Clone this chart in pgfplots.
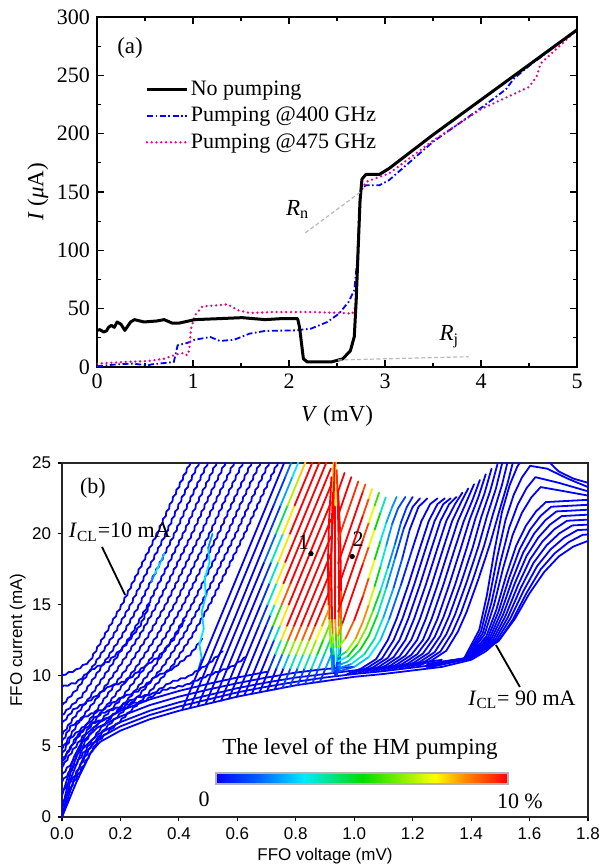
\documentclass[border=0pt]{standalone}
\usepackage{fontspec}
\setmainfont{Liberation Serif}
\newfontfamily\arialfont{Liberation Sans}
\usepackage{pgfplots}
\pgfplotsset{compat=1.18}
\usetikzlibrary{calc,decorations.pathmorphing}

\pgfplotsset{
  colormap={hm}{rgb255(0cm)=(0,0,255) rgb255(3cm)=(0,100,255) rgb255(6cm)=(0,235,255)
    rgb255(10cm)=(0,220,0) rgb255(15cm)=(255,255,0) rgb255(17cm)=(255,140,0) rgb255(20cm)=(255,0,0)},
  fam/.style={blue, line width=0.9bp, line join=round, line cap=round},
  famw/.style={fam, decorate, decoration={zigzag, segment length=4bp, amplitude=0.35bp}},
  lobe/.style={mesh, point meta=explicit, line width=0.9bp, line join=round, line cap=round},
  lobew/.style={lobe},
}

\begin{document}
\begin{tikzpicture}
\useasboundingbox (0,0) rectangle (305bp,433.5bp);

% ---------------- panel (a)
\begin{axis}[
  at={(48.5bp,250bp)}, anchor=south west,
  scale only axis, width=240bp, height=175bp,
  xmin=0, xmax=5, ymin=0, ymax=300,
  xtick={0,1,2,3,4,5}, ytick={0,50,100,150,200,250,300},
  minor x tick num=1, minor y tick num=1,
  tick align=inside, major tick length=3.5bp, minor tick length=2bp,
  axis line style={line width=0.75bp},
  every tick/.style={black, line width=0.6bp},
  /pgf/number format/assume math mode=true,
  tick label style={font=\fontsize{11bp}{13bp}\selectfont},
  label style={font=\fontsize{11.5bp}{13bp}\selectfont},
  xlabel={\textit{V} (mV)}, ylabel={\textit{I} (\textit{μ}A)},
  xlabel style={at={(axis description cs:0.5,-0.14)}, anchor=center},
  ylabel style={at={(axis description cs:-0.123,0.5)}, anchor=center},
  legend style={at={(0.10,0.826)}, anchor=north west, draw=none, fill=none,
    font=\fontsize{11bp}{13bp}\selectfont, row sep=2bp, inner sep=0pt,
    nodes={inner sep=1.2bp}},
  legend cell align=left,
  legend image code/.code={\draw[#1] (0bp,0bp) -- (20bp,0bp);},
]
\addlegendimage{black, line width=1.5bp}
\addlegendentry{No pumping}
\addlegendimage{blue, line width=0.9bp, dash pattern=on 3bp off 1.3bp on 0.8bp off 1.3bp}
\addlegendentry{Pumping @400 GHz}
\addlegendimage{magenta, line width=1.3bp, line cap=round, dash pattern=on 0bp off 2.4bp}
\addlegendentry{Pumping @475 GHz}

\addplot[forget plot, blue, line width=0.9bp, dash pattern=on 3bp off 1.3bp on 0.8bp off 1.3bp] coordinates {
(0,0.6)(0.21,2.3)(0.37,2.9)(0.53,1.4)(0.57,2.3)(0.70,3.4)(0.80,4.3)(0.82,11.4)(0.84,18.6)
(0.94,20.6)(1.02,23.4)(1.18,25.7)(1.28,22.3)(1.43,23.4)(1.59,28.6)(1.75,30.9)(2.07,31.4)
(2.23,32.9)(2.40,38.6)(2.52,45.7)(2.62,55.7)(2.68,65.7)(2.71,91)(2.73,128.6)(2.75,152.9)
(2.80,155.7)(2.94,155.7)(3.04,160)(3.5,193)(4.0,222)(4.26,238)(4.34,247)(4.5,258)(5,289)};

\addplot[forget plot, magenta, line width=1.3bp, line cap=round, dash pattern=on 0bp off 2.4bp] coordinates {
(0,2.9)(0.29,4.3)(0.53,5.1)(0.70,7.1)(0.80,10)(0.84,10.9)(0.90,12)(0.94,10)(0.96,14.3)
(0.98,32.9)(1.02,44.3)(1.10,52)(1.26,52.9)(1.36,53.7)(1.47,48.6)(1.59,46.3)(1.83,47.1)
(2.23,47.1)(2.56,46.3)(2.66,45.7)(2.69,51.4)(2.71,85.7)(2.73,120)(2.75,150)(2.80,158.6)
(2.94,162.9)(3.04,165.7)(3.5,194)(4.0,221)(4.5,240)(4.58,249)(4.62,260)(5,289)};

\addplot[forget plot, black, line width=1.5bp, line join=round] coordinates {
(0,31.4)(0.03,32)(0.07,30)(0.1,31)(0.12,34)(0.15,35.7)(0.18,34)(0.21,38.6)(0.25,36.6)
(0.29,31.4)(0.35,38.6)(0.39,40.6)(0.49,38.6)(0.62,39.4)(0.70,40.6)(0.78,37.7)(0.86,37.7)
(1.02,40.6)(1.26,41.4)(1.51,42.3)(1.75,40.6)(1.91,41.4)(2.09,41.4)(2.11,34)(2.15,7)
(2.19,4.3)(2.44,4.3)(2.56,7)(2.64,14)(2.68,26)(2.70,57)(2.72,100)(2.74,143)(2.76,161)
(2.80,165)(2.94,165)(3.04,170)(3.5,199)(4.0,229)(4.5,259)(5.0,289)};

\addplot[forget plot, gray!55, line width=0.6bp, dash pattern=on 2bp off 1.2bp] coordinates {(2.17,115)(2.754,150.5)};
\addplot[forget plot, gray!55, line width=0.6bp, dash pattern=on 2bp off 1.2bp] coordinates {(2.51,6)(3.87,8.8)};

\node[font=\fontsize{11.5bp}{13bp}\selectfont] at (axis cs:0.344,273.4) {(a)};
\node[font=\fontsize{11.5bp}{13bp}\selectfont] at (axis cs:2.09,135) {\textit{R}\textsubscript{n}};
\node[font=\fontsize{11.5bp}{13bp}\selectfont] at (axis cs:3.67,26) {\textit{R}\textsubscript{j}};
\end{axis}

% ---------------- panel (b)
\begin{axis}[
  at={(31bp,25bp)}, anchor=south west,
  scale only axis, width=263bp, height=177bp,
  xmin=0, xmax=1.8, ymin=0, ymax=25,
  xtick={0,0.2,0.4,0.6,0.8,1.0,1.2,1.4,1.6,1.8}, ytick={0,5,10,15,20,25},
  xtick pos=left, ytick pos=left,
  tick align=outside, major tick length=2bp,
  axis line style={line width=1bp, black!85},
  every tick/.style={black, line width=0.6bp},
  /pgf/number format/assume math mode=true,
  tick label style={font=\arialfont\fontsize{8.5bp}{10bp}\selectfont},
  xticklabel style={/pgf/number format/.cd, fixed, fixed zerofill, precision=1},
  label style={font=\arialfont\fontsize{8.5bp}{10bp}\selectfont},
  xlabel={FFO voltage (mV)}, ylabel={FFO current (mA)},
  xlabel style={at={(axis description cs:0.5,-0.110)}, anchor=center},
  ylabel style={at={(axis description cs:-0.084,0.5)}, anchor=center},
  colormap name=hm, point meta min=0, point meta max=10,
  colorbar horizontal,
  colorbar style={at={($(parent axis.south west)+(77bp,25bp)$)}, anchor=south west,
    scale only axis, width=146bp, height=5.5bp,
    xtick=\empty, ytick=\empty, xlabel={}, ylabel={},
    axis line style={gray!60, line width=0.6bp}},
]
% envelope band
\addplot[fam] coordinates {(0,0)(0.05,2.5)(0.1,4.6)(0.13,5.3)(0.2,6.1)(0.3,6.9)(0.4,7.5)(0.5,8.0)(0.6,8.5)(0.7,8.9)(0.8,9.3)(0.9,9.6)(1.0,9.9)(1.1,10.1)(1.2,10.35)(1.3,10.6)(1.4,11.1)(1.45,11.7)(1.5,12.6)(1.55,14)(1.6,15.8)(1.65,17.3)(1.7,18.4)(1.75,19.1)(1.8,19.5)};
\addplot[fam] coordinates {(0,0)(0.04,2.6)(0.08,4.5)(0.12,5.5)(0.2,6.4)(0.3,7.2)(0.4,7.8)(0.5,8.3)(0.6,8.8)(0.7,9.2)(0.8,9.55)(0.9,9.85)(1.0,10.1)(1.1,10.3)(1.2,10.55)(1.3,10.8)(1.4,11.3)};
\addplot[fam] coordinates {(0,0)(0.03,2.7)(0.07,4.8)(0.12,5.8)(0.2,6.7)(0.3,7.5)(0.4,8.1)(0.5,8.6)(0.6,9.1)(0.7,9.5)(0.8,9.85)(0.9,10.1)(1.0,10.35)(1.1,10.55)(1.2,10.8)(1.3,11.1)};
\addplot[fam] coordinates {(0,0.5)(0.03,3.2)(0.07,5.3)(0.12,6.3)(0.2,7.1)(0.3,7.9)(0.4,8.5)(0.5,9.0)(0.6,9.45)(0.7,9.85)(0.8,10.2)(0.9,10.45)(1.0,10.6)};
\addplot[fam] coordinates {(0,1.5)(0.04,4.2)(0.08,5.8)(0.13,6.7)(0.2,7.5)(0.3,8.3)(0.4,8.9)(0.5,9.4)(0.6,9.85)(0.7,10.25)};

% tangle in the lower left
\addplot[famw] coordinates {(0,9.2)(0.05,9.5)(0.1,10.4)(0.16,11.0)(0.22,12.2)(0.27,13.6)(0.3,15.0)};
\addplot[famw] coordinates {(0,6.6)(0.04,7.6)(0.1,8.3)(0.16,9.2)(0.22,9.6)(0.28,10.6)(0.33,11.3)(0.38,12.5)(0.42,13.9)};
\addplot[famw] coordinates {(0,5.3)(0.03,6.4)(0.08,7.1)(0.14,7.6)(0.2,8.4)(0.26,8.9)(0.32,9.9)(0.38,10.5)(0.44,11.5)(0.48,12.6)};
\addplot[famw] coordinates {(0,4.4)(0.03,5.6)(0.07,6.3)(0.13,7.3)(0.19,7.7)(0.25,8.4)(0.31,8.7)(0.37,9.5)(0.43,9.9)(0.5,10.8)(0.55,11.7)};
\addplot[famw] coordinates {(0,3.8)(0.05,5.7)(0.1,6.6)(0.16,7.0)(0.22,7.9)(0.28,8.2)(0.35,9.0)(0.42,9.3)(0.5,10.0)(0.58,10.6)(0.63,11.3)};

% left family
\addplot[famw] coordinates {(0.45,25.5)(0.38,22.5)(0.325,20)(0.265,17.5)(0.205,15)(0.145,12.8)(0.095,11.0)(0.05,10.4)(0,10.0)};
\addplot[famw] coordinates {(0.48,25.5)(0.41,22.5)(0.355,20)(0.295,17.5)(0.235,15)(0.175,12.8)(0.105,10.6)(0.05,9.0)(0,7.9)};
\addplot[famw] coordinates {(0.51,25.5)(0.44,22.5)(0.385,20)(0.325,17.5)(0.265,15)(0.205,12.8)(0.135,10.6)(0.07,8.6)(0,7.2)};
\addplot[famw] coordinates {(0.54,25.5)(0.47,22.5)(0.415,20)(0.355,17.5)(0.295,15)(0.235,12.8)(0.165,10.6)(0.09,8.3)(0.04,7.0)(0,5.8)};
\addplot[famw] coordinates {(0.57,25.5)(0.5,22.5)(0.445,20)(0.385,17.5)(0.325,15)(0.265,12.8)(0.195,10.6)(0.12,8.4)(0.06,6.8)(0,4.8)};
\addplot[famw] coordinates {(0.6,25.5)(0.53,22.5)(0.475,20)(0.415,17.5)(0.355,15)(0.295,12.8)(0.225,10.6)(0.14,8.2)(0.08,6.4)(0,4.0)};
\addplot[famw] coordinates {(0.63,25.5)(0.56,22.5)(0.505,20)(0.445,17.5)(0.385,15)(0.325,12.8)(0.255,10.6)(0.17,8.3)(0.09,6.2)(0.03,4.5)(0,3.5)};
\addplot[famw] coordinates {(0.66,25.5)(0.59,22.5)(0.535,20)(0.475,17.5)(0.415,15)(0.355,12.8)(0.285,10.6)(0.2,8.3)(0.11,6.3)(0.04,4.0)(0,3.0)};
\addplot[famw] coordinates {(0.69,25.5)(0.62,22.5)(0.565,20)(0.505,17.5)(0.445,15)(0.385,12.8)(0.315,10.6)(0.23,8.4)(0.13,6.2)(0.05,3.8)(0,2.5)};
\addplot[famw] coordinates {(0.72,25.5)(0.65,22.5)(0.595,20)(0.535,17.5)(0.475,15)(0.415,12.8)(0.345,10.6)(0.26,8.5)(0.15,6.3)(0.1,5.0)(0.04,2.8)(0,1.8)};
\addplot[famw] coordinates {(0.75,25.5)(0.68,22.5)(0.625,20)(0.565,17.5)(0.505,15)(0.445,12.8)(0.375,10.6)(0.29,8.6)(0.2,6.8)(0.12,5.3)(0.05,2.8)(0,1.0)};

% light-blue strands
\addplot[lobe] coordinates {(0.465,10.3)[1](0.478,11.2)[2.5](0.47,12.2)[3](0.485,13.3)[3](0.478,14.5)[2.5](0.492,15.6)[3](0.488,16.8)[3](0.505,18)[3](0.5,19)[2.5](0.515,20)[1.5]};
\addplot[lobe] coordinates {(0.305,16.6)[1](0.318,17.2)[3](0.335,17.9)[3](0.35,18.6)[2]};

% lobe family (left of the vertical band)
\addplot[lobew] coordinates {(0.412,7.6)[0](0.59,16.5)[0](0.77,25.5)[0]};
\addplot[lobew] coordinates {(0.438,7.7)[0](0.58,14.8)[0](0.724,22)[0](0.764,24)[1.5](0.794,25.5)[1.5]};
\addplot[lobew] coordinates {(0.465,7.85)[0](0.59,14)[0](0.708,20)[0](0.748,22)[1.5](0.788,24)[3](0.818,25.5)[3]};
\addplot[lobew] coordinates {(0.492,8)[0](0.692,18)[0](0.732,20)[3](0.772,22)[5.5](0.812,24)[8](0.842,25.5)[8]};
\addplot[lobew] coordinates {(0.518,8.1)[0](0.686,16.5)[0](0.716,18)[1.5](0.756,20)[5.5](0.796,22)[10](0.866,25.5)[10]};
\addplot[lobew] coordinates {(0.544,8.2)[0](0.68,15)[0](0.71,16.5)[1.5](0.74,18)[5.5](0.78,20)[10](0.89,25.5)[10]};
\addplot[lobew] coordinates {(0.571,8.35)[0](0.674,13.5)[0](0.704,15)[1.5](0.734,16.5)[5.5](0.764,18)[10](0.914,25.5)[10]};
\addplot[lobew] coordinates {(0.597,8.45)[0](0.698,13.5)[0](0.713,14.25)[1.5](0.728,15)[5](0.758,16.5)[10](0.92,24.6)[10]};
\addplot[lobew] coordinates {(0.624,8.6)[0](0.702,12.5)[0](0.722,13.5)[3](0.752,15)[8](0.782,16.5)[10](0.92,23.4)[10]};
\addplot[lobew] coordinates {(0.65,8.7)[0](0.706,11.5)[0](0.726,12.5)[1.5](0.746,13.5)[5.5](0.776,15)[10](0.92,22.2)[10]};
\addplot[lobew] coordinates {(0.676,8.8)[0](0.71,10.5)[0](0.73,11.5)[1.5](0.75,12.5)[5.5](0.77,13.5)[10](0.92,21)[10]};
\addplot[lobew] coordinates {(0.702,8.9)[0](0.734,10.5)[0](0.754,11.5)[3](0.774,12.5)[8](0.794,13.5)[10](0.92,19.8)[10]};
\addplot[lobew] coordinates {(0.728,9.0)[0](0.758,10.5)[0](0.778,11.5)[5](0.798,12.5)[8](0.818,13.5)[10](0.92,18.6)[10]};
\addplot[lobew] coordinates {(0.754,9.1)[0](0.782,10.5)[2](0.802,11.5)[5](0.822,12.5)[8](0.842,13.5)[10](0.92,17.4)[10]};
\addplot[lobew] coordinates {(0.78,9.2)[0](0.806,10.5)[2](0.826,11.5)[5](0.846,12.5)[8](0.866,13.5)[10](0.92,16.2)[10]};
\addplot[lobew] coordinates {(0.806,9.3)[0](0.83,10.5)[2](0.85,11.5)[5](0.87,12.5)[8](0.89,13.5)[7](0.92,15)[10]};
\addplot[lobew] coordinates {(0.832,9.4)[0](0.854,10.5)[2](0.874,11.5)[5](0.894,12.5)[5](0.92,13.8)[7]};
\addplot[lobew] coordinates {(0.858,9.5)[0](0.878,10.5)[2](0.898,11.5)[3](0.92,12.6)[5]};
\addplot[lobew] coordinates {(0.883,9.55)[0](0.902,10.5)[1.5](0.92,11.4)[3]};

% vertical band
\addplot[lobe] coordinates {(0.935,10.0)[0](0.932,10.8)[1](0.93,11.5)[3](0.928,12.3)[5](0.926,13)[8](0.924,14)[10](0.922,17)[10](0.923,20)[10](0.926,23)[10](0.93,25.5)[6]};
\addplot[lobe] coordinates {(0.94,10.0)[0](0.94,11)[2](0.939,12)[4](0.937,13)[7](0.935,14)[10](0.935,18)[10](0.935,22)[10](0.937,25.5)[5]};
\addplot[lobe] coordinates {(0.945,10.2)[0](0.946,11.5)[2](0.946,12.5)[5](0.947,13.5)[8](0.948,15)[10](0.947,19)[10](0.944,22)[10](0.94,24.5)[9]};
\addplot[lobe] coordinates {(0.93,10.3)[0](0.925,11.5)[3](0.918,13)[6](0.912,15)[10](0.91,18)[10](0.914,21)[10](0.922,24)[10]};
\addplot[lobe] coordinates {(0.95,10.3)[0](0.953,12)[3](0.955,14)[8](0.955,16)[10](0.952,20)[10](0.945,23)[10]};
\addplot[lobe] coordinates {(0.925,10.2)[0](0.92,12)[4](0.915,14)[9](0.917,17)[10](0.928,21.5)[10](0.934,25.5)[10]};

% right of the band
\addplot[lobew] coordinates {(0.945,23)[10](0.967,24.3)[10]};
\addplot[lobew] coordinates {(0.945,21.3)[10](0.99,24.0)[10]};
\addplot[lobew] coordinates {(0.945,19.6)[10](1.014,23.7)[9]};
\addplot[lobew] coordinates {(0.945,17.9)[10](1.03,23.0)[10](1.038,23.48)[8.5]};
\addplot[lobew] coordinates {(0.945,16.2)[10](1.03,21.3)[10](1.05,22.5)[8.5](1.061,23.16)[7]};
\addplot[lobew] coordinates {(0.945,14.5)[10](1.03,19.6)[10](1.05,20.8)[8.5](1.07,22.0)[6](1.085,22.9)[5]};
\addplot[lobew] coordinates {(0.945,12.8)[7](0.96,13.7)[10](1.03,17.9)[10](1.05,19.1)[8.5](1.07,20.3)[6](1.09,21.5)[4](1.108,22.58)[3]};
\addplot[lobew] coordinates {(0.945,12.0)[5](0.97,12.6)[8](1.0,13.9)[10](1.03,15.6)[10](1.05,16.9)[8.5](1.07,18.2)[6](1.09,19.5)[4](1.11,20.8)[2.5](1.13,21.9)[2](1.145,22.6)[2]};
\addplot[lobew] coordinates {(0.945,11.3)[3](0.975,11.7)[5](1.005,12.6)[8](1.03,13.8)[9](1.05,15.0)[8](1.07,16.3)[6](1.09,17.7)[4](1.11,19.2)[2.5](1.13,20.7)[1.5](1.15,21.8)[1](1.175,22.6)[1]};
\addplot[lobe] coordinates {(0.945,11.0)[2](0.978,11.35)[4](1.012,12.2)[6](1.04,13.3)[6.5](1.065,14.6)[5.5](1.09,16.0)[4](1.115,17.6)[2.5](1.14,19.3)[1.5](1.16,20.8)[1](1.18,21.9)[0.5](1.2,22.6)[0.5]};
\addplot[lobe] coordinates {(0.945,10.7)[1.5](0.98,11.0)[3](1.02,11.8)[5](1.05,12.8)[5](1.08,14.3)[4.5](1.11,16.2)[2.5](1.14,18.3)[1.5](1.17,20.4)[0.5](1.2,21.9)[0](1.225,22.5)[0]};
\addplot[lobe] coordinates {(0.948,10.5)[1](0.99,10.8)[2.5](1.035,11.5)[4](1.07,12.6)[4](1.1,14.1)[3](1.135,16.2)[1.5](1.165,18.3)[1](1.19,20.3)[0](1.22,21.9)[0](1.25,22.5)[0]};
\addplot[lobe] coordinates {(0.95,10.3)[0.5](1.0,10.6)[2](1.05,11.3)[3](1.09,12.5)[3](1.12,14.0)[2](1.16,16.4)[1](1.2,19.0)[0](1.23,20.9)[0](1.26,22.1)[0](1.285,22.5)[0]};

% blue right family
\addplot[fam] coordinates {(0.975,10.08)(1.025,10.5)(1.075,11.15)(1.115,12.5)(1.145,14)(1.185,16.4)(1.225,19)(1.255,20.9)(1.285,22.1)(1.31,22.5)};
\addplot[fam] coordinates {(0.995,10.14)(1.045,10.54)(1.095,11.19)(1.135,12.5)(1.165,14)(1.205,16.4)(1.245,19)(1.275,20.9)(1.305,22.1)(1.33,22.5)};
\addplot[fam] coordinates {(1.015,10.18)(1.065,10.58)(1.115,11.24)(1.155,12.5)(1.185,14)(1.225,16.4)(1.265,19)(1.295,20.9)(1.325,22.1)(1.35,22.6)};
\addplot[fam] coordinates {(1.035,10.22)(1.085,10.62)(1.135,11.29)(1.175,12.5)(1.205,14)(1.245,16.4)(1.285,19)(1.315,20.9)(1.345,22.1)(1.37,22.9)};
\addplot[fam] coordinates {(1.055,10.26)(1.105,10.66)(1.155,11.34)(1.195,12.5)(1.225,14)(1.265,16.4)(1.305,19)(1.335,20.9)(1.365,22.2)(1.39,23.2)};
\addplot[fam] coordinates {(1.075,10.3)(1.125,10.71)(1.175,11.39)(1.215,12.5)(1.245,14)(1.285,16.4)(1.325,19)(1.355,20.9)(1.385,22.3)(1.41,23.5)};
\addplot[fam] coordinates {(1.095,10.34)(1.145,10.76)(1.195,11.44)(1.235,12.5)(1.265,14)(1.305,16.4)(1.345,19)(1.375,20.9)(1.405,22.4)(1.43,23.8)};
\addplot[fam] coordinates {(1.115,10.39)(1.165,10.81)(1.215,11.49)(1.255,12.6)(1.285,14)(1.325,16.4)(1.365,19)(1.395,21)(1.425,22.6)(1.45,24.2)};
\addplot[fam] coordinates {(1.135,10.44)(1.185,10.86)(1.235,11.54)(1.275,12.7)(1.305,14.1)(1.345,16.4)(1.385,19)(1.415,21.1)(1.445,22.8)(1.47,24.6)};
\addplot[fam] coordinates {(1.155,10.49)(1.205,10.91)(1.255,11.59)(1.295,12.8)(1.325,14.2)(1.365,16.5)(1.405,19)(1.435,21.2)(1.465,23.0)(1.49,24.9)};
\addplot[fam] coordinates {(1.175,10.54)(1.225,10.96)(1.275,11.64)(1.315,12.9)(1.345,14.3)(1.385,16.6)(1.425,19.1)(1.455,21.3)(1.485,23.2)(1.51,25.3)};
\addplot[fam] coordinates {(1.195,10.59)(1.245,11.01)(1.295,11.69)(1.335,13.0)(1.365,14.4)(1.405,16.7)(1.445,19.2)(1.475,21.4)(1.505,23.4)(1.53,25.5)};
\addplot[fam] coordinates {(1.215,10.64)(1.265,11.06)(1.315,11.74)(1.355,13.1)(1.385,14.5)(1.425,16.8)(1.465,19.3)(1.495,21.5)(1.525,23.6)(1.55,25.6)};

% far right family
\addplot[fam] coordinates {(1.25,10.55)(1.398,11.2)(1.494,12.42)(1.542,13.91)(1.59,15.83)(1.638,17.49)(1.686,18.62)(1.734,19.41)(1.782,19.93)(1.8,19.95)};
\addplot[fam] coordinates {(1.25,10.57)(1.396,11.2)(1.488,12.47)(1.534,14.01)(1.58,16.0)(1.626,17.72)(1.672,18.9)(1.718,19.72)(1.764,20.26)(1.8,20.3)};
\addplot[fam] coordinates {(1.25,10.6)(1.394,11.2)(1.482,12.51)(1.526,14.11)(1.57,16.18)(1.614,17.96)(1.658,19.18)(1.702,20.03)(1.746,20.59)(1.8,20.65)};
\addplot[fam] coordinates {(1.25,10.62)(1.392,11.2)(1.476,12.56)(1.518,14.21)(1.56,16.35)(1.602,18.2)(1.644,19.46)(1.686,20.34)(1.728,20.92)(1.8,21.0)};
\addplot[fam] coordinates {(1.25,10.65)(1.39,11.2)(1.47,12.61)(1.51,14.32)(1.55,16.53)(1.59,18.44)(1.63,19.74)(1.67,20.65)(1.71,21.25)(1.8,21.35)};
\addplot[fam] coordinates {(1.25,10.67)(1.388,11.2)(1.464,12.65)(1.502,14.42)(1.54,16.7)(1.578,18.67)(1.616,20.02)(1.654,20.96)(1.692,21.58)(1.8,21.7)};
\addplot[fam] coordinates {(1.25,10.7)(1.386,11.2)(1.458,12.7)(1.494,14.52)(1.53,16.88)(1.566,18.91)(1.602,20.3)(1.638,21.27)(1.674,21.91)(1.8,22.05)};
\addplot[fam] coordinates {(1.25,10.72)(1.384,11.2)(1.452,12.75)(1.486,14.62)(1.52,17.05)(1.554,19.15)(1.588,20.58)(1.622,21.58)(1.656,22.24)(1.8,22.4)};
\addplot[fam] coordinates {(1.25,10.75)(1.382,11.2)(1.446,12.89)(1.478,14.95)(1.51,17.61)(1.542,19.91)(1.574,21.49)(1.606,22.57)(1.638,23.3)(1.72,23.0)(1.8,22.7)};
\addplot[fam] coordinates {(1.25,10.77)(1.38,11.2)(1.44,12.99)(1.47,15.17)(1.5,17.98)(1.53,20.42)(1.56,22.08)(1.59,23.23)(1.62,24.0)(1.7,23.6)(1.8,23.0)};
\addplot[fam] coordinates {(1.25,10.8)(1.378,11.2)(1.434,13.1)(1.462,15.42)(1.49,18.41)(1.518,21.0)(1.546,22.76)(1.574,23.98)(1.602,24.8)(1.66,24.6)(1.73,23.9)(1.8,23.3)};
\addplot[fam] coordinates {(1.25,10.82)(1.376,11.2)(1.428,13.22)(1.454,15.66)(1.48,18.83)(1.506,21.57)(1.532,23.44)(1.558,24.74)(1.584,25.6)(1.64,25.6)(1.7,24.4)(1.75,23.9)(1.8,23.6)};

% marked points 1 and 2
\addplot[only marks, mark=*, mark size=1.1bp, black] coordinates {(0.852,18.6)(0.993,18.4)};

\draw[black, line width=0.9bp] (axis cs:0.137,19.07) -- (axis cs:0.216,15.68);
\draw[black, line width=0.9bp] (axis cs:1.485,12.15) -- (axis cs:1.567,9.18);

\begin{scope}[every node/.style={font=\fontsize{11bp}{13bp}\selectfont}]
\node at (axis cs:0.106,23.2) {(b)};
\node at (axis cs:0.198,20.1) {\textit{I}\textsubscript{CL}=10 mA};
\node at (axis cs:1.574,8.26) {\textit{I}\textsubscript{CL}= 90 mA};
\node at (axis cs:0.827,19.4) {1};
\node at (axis cs:1.013,19.6) {2};
\node[font=\fontsize{11.5bp}{13bp}\selectfont] at (axis cs:1.02,4.8) {The level of the HM pumping};
\node at (axis cs:0.486,1.27) {0};
\node at (axis cs:1.567,1.13) {10 \%};
\end{scope}
\end{axis}
\end{tikzpicture}
\end{document}
